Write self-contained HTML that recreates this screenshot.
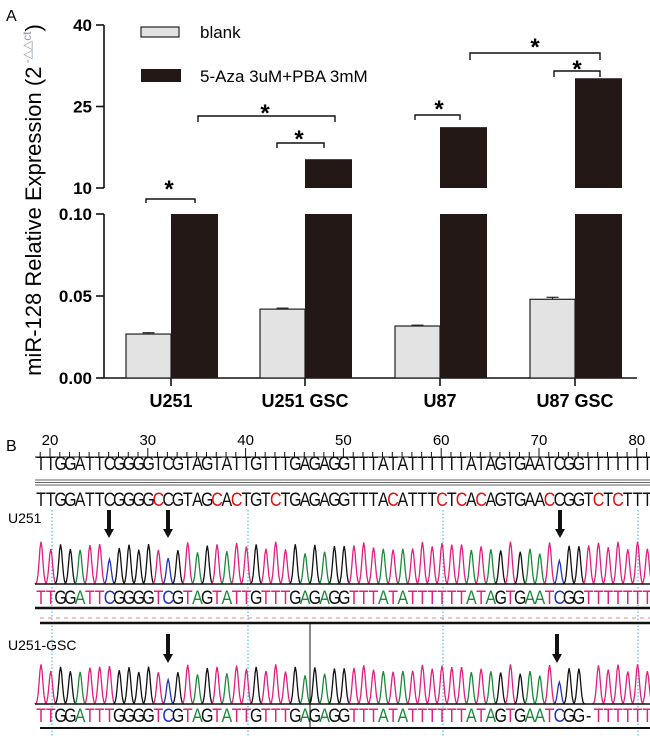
<!DOCTYPE html>
<html><head><meta charset="utf-8"><style>
html,body{margin:0;padding:0;background:#fff;}
svg{display:block;font-family:"Liberation Sans",Arial,sans-serif;}
</style></head><body>
<svg id="fig" width="650" height="743" viewBox="0 0 650 743" xmlns="http://www.w3.org/2000/svg">
<text x="6" y="21" font-size="16">A</text>
<text x="6" y="451" font-size="16">B</text>
<g id="chart"></g>
<g id="seq"></g>
</svg>
<script>
const categories = ["U251","U251 GSC","U87","U87 GSC"];
const blankValues = [0.0268,0.042,0.0317,0.048];
const blankErrors = [0.0008,0.0006,0.0005,0.0012];
const treatedValues = [0.1,15.3,21.2,30.2];
const upperTicks = [10,25,40];
const lowerTicks = [0.00,0.05,0.10];
const lowerTickLabels = ["0.00","0.05","0.10"];

const NS="http://www.w3.org/2000/svg";
function mk(parent,tag,attrs){const e=document.createElementNS(NS,tag);for(const k in attrs)e.setAttribute(k,attrs[k]);parent.appendChild(e);return e;}
const chart=document.getElementById('chart');
const axX=104;
function yLow(v){return 378-(v/0.10)*164;}
function yUp(v){return 188-(v-10)/30*163;}
const groupX=[171,305,440,575];
const bw=45;

let e;
e=mk(chart,'line',{x1:axX,y1:25,x2:axX,y2:188,stroke:'#111','stroke-width':1.6});


e=mk(chart,'line',{x1:axX,y1:214,x2:axX,y2:378,stroke:'#111','stroke-width':1.6});


e=mk(chart,'line',{x1:axX,y1:378,x2:637,y2:378,stroke:'#111','stroke-width':1.6});


upperTicks.forEach(v=>{
  const y=yUp(v);
  mk(chart,'line',{x1:96,y1:y,x2:axX,y2:y,stroke:'#111','stroke-width':1.6});
  e=mk(chart,'text',{x:92,y:y+6,'text-anchor':'end','font-size':17,'font-weight':'bold'});
  e.textContent=v;
  
  
});
lowerTicks.forEach((v,i)=>{
  const y=yLow(v);
  mk(chart,'line',{x1:96,y1:y,x2:axX,y2:y,stroke:'#111','stroke-width':1.6});
  e=mk(chart,'text',{x:92,y:y+6,'text-anchor':'end','font-size':17,'font-weight':'bold'});
  e.textContent=lowerTickLabels[i];
  
  
});
categories.forEach((c,i)=>{
  const cx=groupX[i];
  mk(chart,'line',{x1:cx,y1:378,x2:cx,y2:386,stroke:'#111','stroke-width':1.6});
  e=mk(chart,'text',{x:cx,y:407,'text-anchor':'middle','font-size':18,'font-weight':'bold'});
  e.textContent=c;
  
  
  const yb=yLow(blankValues[i]);
  e=mk(chart,'rect',{x:cx-bw,y:yb,width:bw,height:378-yb,fill:'#e3e3e3',stroke:'#222','stroke-width':1.2});
  
  
  const ye=yLow(blankValues[i]+blankErrors[i]);
  mk(chart,'line',{x1:cx-bw/2,y1:ye,x2:cx-bw/2,y2:yb,stroke:'#222','stroke-width':1.2});
  mk(chart,'line',{x1:cx-bw/2-6,y1:ye,x2:cx-bw/2+6,y2:ye,stroke:'#222','stroke-width':1.2});
  const v=treatedValues[i];
  const lowTop=yLow(Math.min(v,0.10));
  e=mk(chart,'rect',{x:cx,y:lowTop,width:bw+2,height:378-lowTop,fill:'#231816'});
  
  
  if(v>10){
    const yt=yUp(v);
    e=mk(chart,'rect',{x:cx,y:yt,width:bw+2,height:188-yt,fill:'#231816'});
    
    
  }
});
[[146,195,199,203,169,183],[198,335,116,122,265,107],[277,324,143,148,299,133],[415,460,115,120,439,103],[470,600,53,60,535,41],[554,600,71,77,577,63]].forEach(b=>{
  e=mk(chart,'path',{d:`M${b[0]},${b[3]}V${b[2]}H${b[1]}V${b[3]}`,fill:'none',stroke:'#111','stroke-width':1.4});
  
  
  e=mk(chart,'text',{x:b[4],y:b[5]+14,'text-anchor':'middle','font-size':24,'font-weight':'bold'});
  e.textContent='*';
  
  
});
e=mk(chart,'rect',{x:141,y:27,width:38,height:10,fill:'#e3e3e3',stroke:'#222','stroke-width':1.2});


e=mk(chart,'text',{x:200,y:38,'font-size':17});e.textContent='blank';


e=mk(chart,'rect',{x:141,y:69,width:40,height:13,fill:'#231816'});


e=mk(chart,'text',{x:200,y:82,'font-size':17});e.textContent='5-Aza 3uM+PBA 3mM';


e=mk(chart,'text',{transform:'translate(41,200) rotate(-90)','text-anchor':'middle','font-size':22});
e.innerHTML='miR-128 Relative Expression (2<tspan font-size="12" dy="-10" fill="#8899aa"> -△△ct</tspan><tspan dy="10">)</tspan>';



const seq=document.getElementById('seq');
const refSeq="TTGGATTCGGGGTCGTAGTATTGTTTGAGAGGTTTATATTTTTTATAGTGAATCGGTTTTTTT";
const conSeq="TTGGATTCGGGGCCGTAGCACTGTCTGAGAGGTTTACATTTCTCACAGTGAACCGGTCTCTTT";
const u251Seq="TTGGATTCGGGGTCGTAGTATTGTTTGAGAGGTTTATATTTTTTATAGTGAATCGGTTTTTTT";
const gscSeq="TTGGATTTGGGGTCGTAGTATTGTTTGAGAGGTTTATATTTTTTATAGTGAATCGG-TTTTTT";
const rulerLabels=[20,30,40,50,60,70,80];
const step=9.78, x0=41;
const col={A:'#1a8a3a',C:'#2233bb',G:'#111',T:'#e0207a','-':'#111'};
function baseX(n){return 50+(n-20)*step;}
mk(seq,'line',{x1:35,y1:457,x2:650,y2:457,stroke:'#111','stroke-width':1});
for(let n=19;n<=81;n++){
  const x=baseX(n);
  mk(seq,'line',{x1:x,y1:457,x2:x,y2:n%10===0?448:452,stroke:'#111','stroke-width':1});
}
rulerLabels.forEach(n=>{
  e=mk(seq,'text',{x:baseX(n),y:445,'text-anchor':'middle','font-size':15});
  e.textContent=n;
  
  
});
function writeSeq(s,y,colorFn,name){
  const g=mk(seq,'g',{});
  
  
  for(let i=0;i<s.length;i++){
    const t=mk(g,'text',{transform:`translate(${x0+i*step},${y}) scale(1,1.2)`,'text-anchor':'middle','font-size':16,'font-family':'"Liberation Sans",sans-serif',fill:colorFn(i)});
    t.textContent=s[i];
  }
}
writeSeq(refSeq,470,()=>'#111','reference-sequence');
[480,482.5,485].forEach(y=>mk(seq,'line',{x1:35,y1:y,x2:650,y2:y,stroke:'#333','stroke-width':0.8}));
writeSeq(conSeq,506,i=>conSeq[i]!==refSeq[i]?'#e01010':'#111','converted-sequence');
e=mk(seq,'text',{x:8,y:523,'font-size':14});e.textContent='U251';


e=mk(seq,'text',{x:8,y:650,'font-size':14});e.textContent='U251-GSC';


[52,248,443,638].forEach(x=>mk(seq,'line',{x1:x,y1:510,x2:x,y2:737,stroke:'#33aaee','stroke-width':1,'stroke-dasharray':'1.5,2'}));
function arrow(x,y1,y2){
  const a=mk(seq,'path',{d:`M${x-2},${y1}H${x+2}V${y2-9}H${x+5}L${x},${y2}L${x-5},${y2-9}H${x-2}Z`,fill:'#111'});
  
  
}
arrow(109,510,538);arrow(168,510,538);arrow(560,510,538);
arrow(168,634,663);arrow(557,634,663);
function chrom(s,base,top,name){
  const g=mk(seq,'g',{});
  
  
  const hb={A:0.75,C:0.55,G:0.85,T:0.9};
  for(let i=0;i<s.length;i++){
    const b=s[i]; if(b==='-')continue;
    const cx=x0+i*step;
    const h=(base-top)*hb[b]*(0.8+0.2*Math.abs(Math.cos(i*1.7)));
    let d=`M${cx-6},${base}`;
    for(let k=-6;k<=6;k+=1){d+=`L${cx+k},${(base-h*Math.exp(-(k*k)/6)).toFixed(1)}`;}
    mk(g,'path',{d:d,fill:'none',stroke:col[b],'stroke-width':1.3});
  }
  mk(g,'line',{x1:35,y1:base,x2:650,y2:base,stroke:'#111','stroke-width':1.4});
}
chrom(u251Seq,584,537,'u251-chromatogram');
chrom(gscSeq,704,660,'u251-gsc-chromatogram');
writeSeq(u251Seq,604,i=>col[u251Seq[i]],'u251-called-sequence');
writeSeq(gscSeq,722,i=>col[gscSeq[i]],'u251-gsc-called-sequence');
mk(seq,'line',{x1:35,y1:608,x2:650,y2:608,stroke:'#111','stroke-width':2.5});
mk(seq,'line',{x1:40,y1:618,x2:650,y2:618,stroke:'#e88','stroke-width':1,'stroke-dasharray':'4,4'});
mk(seq,'line',{x1:40,y1:623,x2:650,y2:623,stroke:'#111','stroke-width':2.5});
mk(seq,'line',{x1:40,y1:728,x2:650,y2:728,stroke:'#111','stroke-width':2});
mk(seq,'line',{x1:310,y1:623,x2:310,y2:728,stroke:'#111','stroke-width':1});
</script>
</body></html>
